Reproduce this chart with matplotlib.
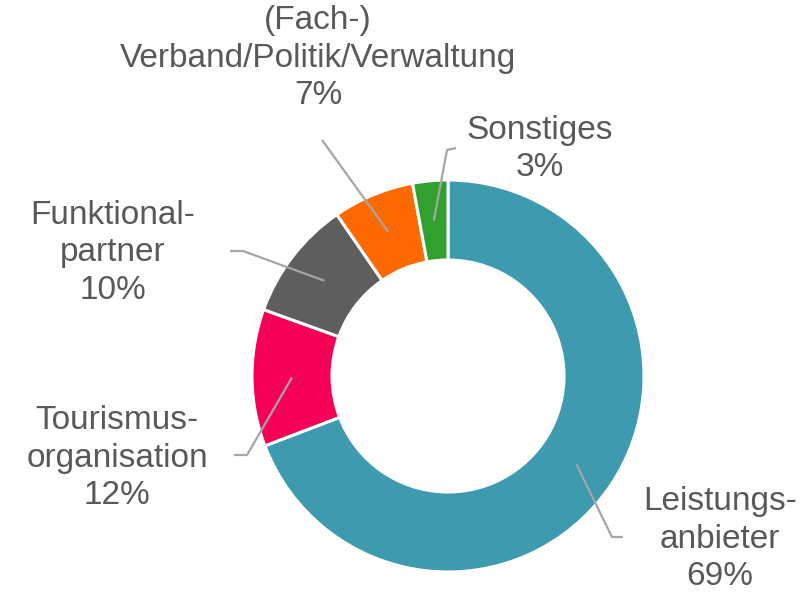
import matplotlib
matplotlib.use("Agg")
import matplotlib.pyplot as plt
import numpy as np

categories = ["Leistungs-\nanbieter", "Tourismus-\norganisation", "Funktional-\npartner",
              "(Fach-)\nVerband/Politik/Verwaltung", "Sonstiges"]
values = [69.2, 11.3, 9.9, 6.7, 2.9]
pct_labels = ["69%", "12%", "10%", "7%", "3%"]
colors = ["#3E9AAE", "#F50057", "#5E5E5E", "#FF6A00", "#32A02E"]

# layout (pixel coordinates, y up)
W, H = 805, 592
center = (448, H - 376)
R_out, R_in = 196, 116
label_pos = [(720, H - 539), (117, H - 458), (113, H - 253), (318, H - 58), (540, H - 149)]
bend_pos = [(612, H - 537), (247, H - 455), (243, H - 251), (322, H - 140), (447, H - 150)]
end_pos = [(623, H - 537), (234, H - 455), (230, H - 251), (322, H - 140), (456, H - 148)]

fig = plt.figure(figsize=(W / 100, H / 100), dpi=100)
ax = fig.add_axes([0, 0, 1, 1])

wedges, _ = ax.pie(values, colors=colors, startangle=90, counterclock=False,
                   center=center, radius=R_out,
                   wedgeprops=dict(width=R_out - R_in, edgecolor="white", linewidth=2.2))
ax.set_xlim(0, W)
ax.set_ylim(0, H)
ax.set_aspect("equal")
ax.axis("off")

r_mid = (R_out + R_in) / 2
for w, lab, pct, lp, bp, ep in zip(wedges, categories, pct_labels, label_pos, bend_pos, end_pos):
    ang = np.deg2rad((w.theta1 + w.theta2) / 2)
    ax_pt = (center[0] + r_mid * np.cos(ang), center[1] + r_mid * np.sin(ang))
    ax.plot([ax_pt[0], bp[0], ep[0]], [ax_pt[1], bp[1], ep[1]], color="#A6A6A6", lw=1.6,
            solid_capstyle="butt", zorder=5)
    ax.text(lp[0], lp[1], f"{lab}\n{pct}", ha="center", va="center", fontsize=24,
            family="Liberation Sans", color="#595959", linespacing=1.28)

fig.savefig("out.png", dpi=100)
